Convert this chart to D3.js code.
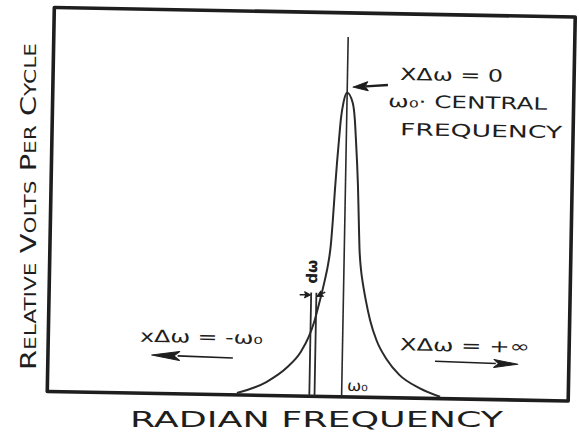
<!DOCTYPE html>
<html><head><meta charset="utf-8">
<script src="https://cdn.jsdelivr.net/npm/d3@7"></script>
<style>html,body{margin:0;padding:0;background:#fff;}svg{display:block;}</style>
</head><body>
<script>
// Resonance curve: relative volts per cycle against radian frequency
const freq  = [36.4, 42.0, 46.0, 48.5, 50.0, 51.0, 52.0, 52.9, 53.45, 53.9, 54.2, 54.5, 54.8, 55.1, 55.4, 55.85, 56.5,
               57.6, 58.05, 58.35, 58.65, 58.9, 59.15, 59.4, 59.75, 60.2, 60.8, 61.7, 63.0, 65.0, 67.5, 71.5, 75.4];
const volts = [0.5, 3.5, 7.5, 11.5, 15.5, 19.5, 25.0, 30.5, 34.5, 39.5, 46.0, 54.0, 61.0, 67.0, 72.5, 76.8, 79.2,
               76.6, 72.5, 67.0, 61.0, 55.0, 47.0, 39.0, 33.5, 29.5, 25.3, 20.1, 14.9, 10.0, 6.0, 2.6, 0.5];

// central frequency marker and the dω strip
const centralFreq = 56.5, centralTop = 93.7;
const stripFreqs = [50.3, 51.3], stripTop = 27;

// annotation labels
const xLabel = "RADIAN FREQUENCY";
const yWords = ["RELATIVE", "VOLTS", "PER", "CYCLE"];

const W = 579, H = 432;
const pw = 521, ph = 384;             // plot frame size
const cx = 311.25, cy = 204.25;       // frame centre on the page

const svg = d3.select("body").append("svg").attr("width", W).attr("height", H)
  .style("font-family", "'DejaVu Sans', sans-serif");

const x = d3.scaleLinear().domain([0, 100]).range([0, pw]);
const y = d3.scaleLinear().domain([0, 100]).range([ph, 0]);

const ink = "#1e1e1e";
const g = svg.append("g")
  .attr("transform", `rotate(1.05, ${cx}, ${cy}) translate(${cx - pw / 2}, ${cy - ph / 2})`);

// frame
g.append("path")
  .attr("d", `M${x(0)},${y(0)} L${x(0)},${y(100)} L${x(100)},${y(100)} L${x(100)},${y(0)} Z`)
  .attr("fill", "none").attr("stroke", ink).attr("stroke-width", 3.6).attr("stroke-linejoin", "round");

// response curve
const pts = freq.map((f, i) => [f, volts[i]]);
g.append("path").datum(pts)
  .attr("d", d3.line().x(d => x(d[0])).y(d => y(d[1])).curve(d3.curveMonotoneX))
  .attr("fill", "none").attr("stroke", "#2a2a2a").attr("stroke-width", 2);

// central frequency line
g.append("line")
  .attr("x1", x(centralFreq)).attr("x2", x(centralFreq))
  .attr("y1", y(0)).attr("y2", y(centralTop))
  .attr("stroke", "#2a2a2a").attr("stroke-width", 1.6);

// dω strip
g.selectAll("line.strip").data(stripFreqs).join("line").attr("class", "strip")
  .attr("x1", d => x(d)).attr("x2", d => x(d))
  .attr("y1", y(0)).attr("y2", y(stripTop))
  .attr("stroke", "#2a2a2a").attr("stroke-width", 1.8);

// arrow helper: shaft plus slender filled head
function arrow(from, to, len, half, sw) {
  const x1 = x(from[0]), y1 = y(from[1]), x2 = x(to[0]), y2 = y(to[1]);
  const a = Math.atan2(y2 - y1, x2 - x1), c = Math.cos(a), s = Math.sin(a);
  const bx = x2 - c * len, by = y2 - s * len;
  g.append("line").attr("x1", x1).attr("y1", y1).attr("x2", bx + c * 2).attr("y2", by + s * 2)
    .attr("stroke", ink).attr("stroke-width", sw);
  const nx = -s * half, ny = c * half;
  const mx = x2 - c * len * 0.8, my = y2 - s * len * 0.8;
  g.append("path")
    .attr("d", `M${x2},${y2} L${bx + nx},${by + ny} L${mx},${my} L${bx - nx},${by - ny} Z`)
    .attr("fill", ink).attr("stroke", ink).attr("stroke-width", 1).attr("stroke-linejoin", "round");
}

arrow([64.3, 81.4], [57.6, 80.7], 15, 4.5, 2.4);   // to the peak
arrow([35.5, 9.6], [19.9, 10.0], 28, 4.5, 1.6);     // towards -ω0
arrow([74.3, 9.7], [90.2, 9.3], 24, 4, 1.6);        // towards +∞
arrow([48.1, 26.4], [50.2, 26.4], 6, 3, 1.4);        // dω strip edges
arrow([53.0, 27.2], [51.4, 26.0], 6, 3, 1.4);

// annotations
function label(txt, fx, fy, size, span) {
  const t = g.append("text").attr("x", x(fx)).attr("y", y(fy))
    .attr("font-size", size).attr("fill", ink).text(txt);
  if (span) t.attr("textLength", span).attr("lengthAdjust", "spacingAndGlyphs");
  return t;
}
label("XΔω = 0", 66.6, 82.8, 17, 103);
label("ω₀· CENTRAL", 64.4, 75.7, 17, 159);
label("FREQUENCY", 66.8, 68.4, 17, 162);
label("xΔω = -ω₀", 17.6, 13.4, 17, 123);
label("XΔω = +∞", 67.5, 12.4, 17, 130);
label("ω₀", 57.5, 1.6, 15, 21);

g.append("text")
  .attr("transform", `translate(${x(50.4) + 5}, ${y(32.4)}) rotate(-90)`)
  .attr("text-anchor", "middle").attr("font-size", 15).attr("font-weight", "bold")
  .attr("fill", ink).text("dω");

// axis titles
svg.append("text").attr("x", 130).attr("y", 427)
  .attr("font-size", 22).attr("fill", ink)
  .attr("textLength", 373).attr("lengthAdjust", "spacingAndGlyphs")
  .text(xLabel);

const yt = svg.append("text")
  .attr("transform", "translate(36, 370) rotate(-90)")
  .attr("fill", ink).attr("textLength", 327).attr("lengthAdjust", "spacingAndGlyphs");
yWords.forEach((w, i) => {
  yt.append("tspan").attr("font-size", 22).text((i ? " " : "") + w[0]);
  yt.append("tspan").attr("font-size", 16.5).text(w.slice(1));
});
</script>
</body></html>
